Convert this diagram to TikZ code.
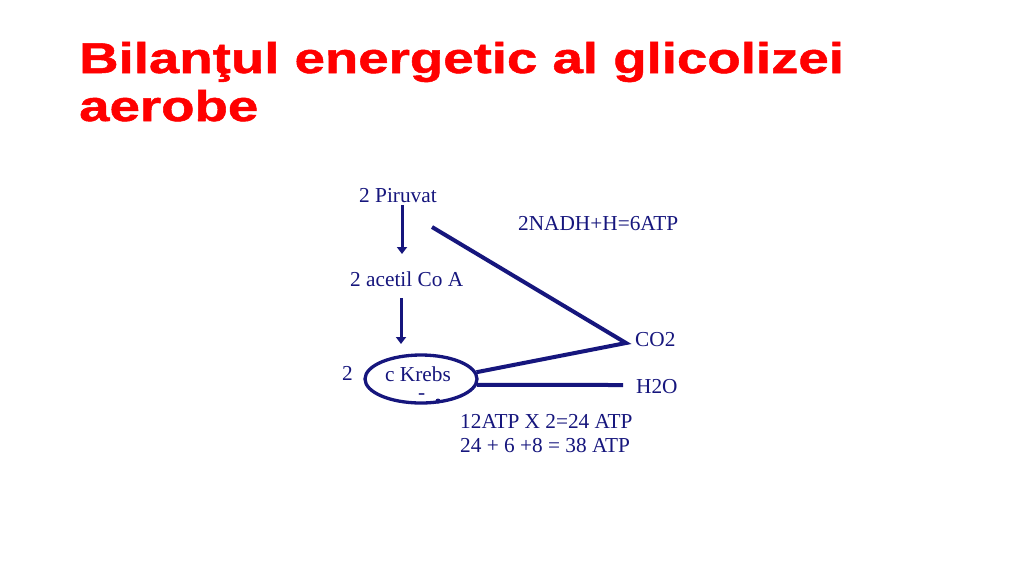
\documentclass[tikz,border=0pt]{standalone}
\usepackage{fontspec}
\setmainfont{Liberation Serif}
\newfontfamily\titlefont[FakeStretch=1.27,FakeBold=1.2]{Liberation Sans}
\usetikzlibrary{shapes.geometric,arrows.meta}
\definecolor{navy}{RGB}{22,22,125}
\definecolor{titlered}{RGB}{255,0,0}
\tikzset{
  lbl/.style={anchor=base west,inner sep=0pt,text=navy,font=\fontsize{21.3}{24}\selectfont},
  ttl/.style={anchor=base west,inner sep=0pt,text=titlered,font=\titlefont\bfseries\fontsize{43}{48}\selectfont},
  flow/.style={draw=navy,line width=3pt,-{Triangle[width=10pt,length=7pt]}},
  link/.style={draw=navy,line width=4pt,line join=miter},
  cycle/.style={draw=navy,line width=3.3pt,ellipse,minimum width=112pt,minimum height=48pt,inner sep=0pt}
}
\begin{document}
\begin{tikzpicture}[x=1pt,y=-1pt]
\path[use as bounding box,fill=white] (0,0) rectangle (1024,574);
% title
\node[ttl] (t1) at (79,73) {Bilanţul energetic al glicolizei};
\node[ttl] (t2) at (79,121) {aerobe};
% labels
\node[lbl] (piruvat) at (359,202) {2 Piruvat};
\node[lbl] (nadh) at (518,230) {2NADH+H=6ATP};
\node[lbl] (acetil) at (350,286) {2 acetil Co A};
\node[lbl] (co2) at (635,346) {CO2};
\node[lbl] (h2o) at (636,393) {H2O};
\node[lbl] (two) at (342,380) {2};
\node[cycle] (krebs) at (421,379) {};
\node[lbl] (ck) at (385,381) {c Krebs};
\node[lbl] (dash) at (418,399) {-};
\node[lbl] (atp1) at (460,428) {12ATP X 2=24 ATP};
\node[lbl] (atp2) at (460,452) {24 + 6 +8 = 38 ATP};
% coordinates
\coordinate (a1s) at (402,205);
\coordinate (a1e) at (402,254);
\coordinate (a2s) at (401,298);
\coordinate (a2e) at (401,344);
\coordinate (d) at (432,227);
\coordinate (v) at (626,343);
\coordinate (h) at (623,385);
% connectors
\draw[flow] (a1s) -- (a1e);
\draw[flow] (a2s) -- (a2e);
\draw[link] (d) -- (v) -- (krebs.7);
\draw[link] (krebs.-6) -- (h);
\fill[navy] (438,401) circle (2.5);
\end{tikzpicture}
\end{document}
